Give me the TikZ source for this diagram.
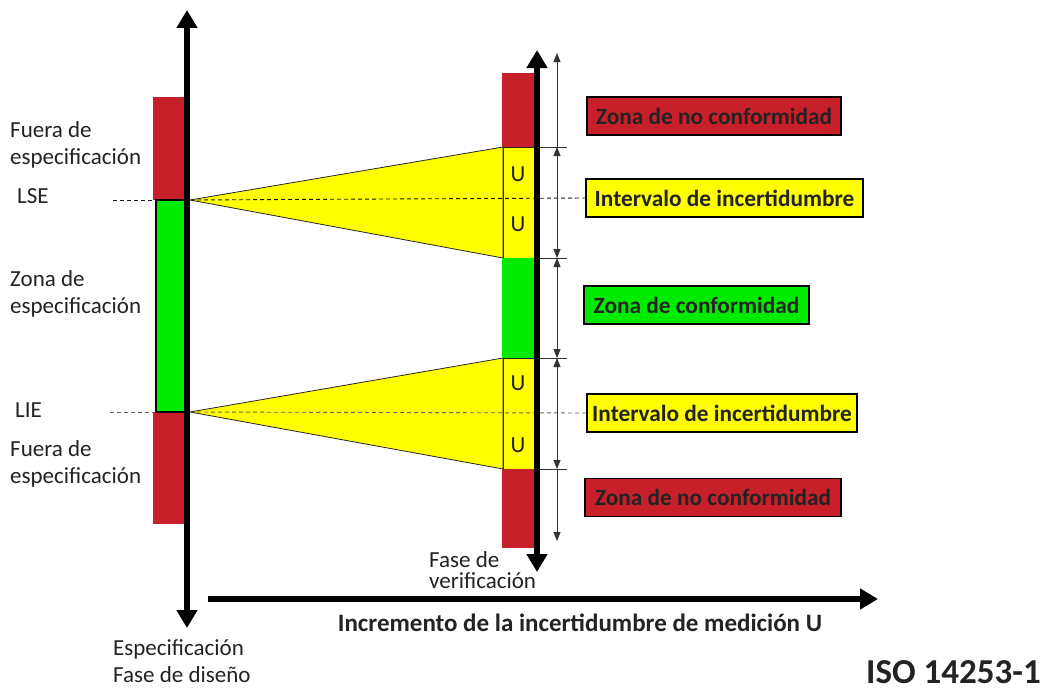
\documentclass[tikz,border=0pt]{standalone}
\usepackage{fontspec}
\setmainfont{Carlito}
\usetikzlibrary{arrows.meta}
\definecolor{myred}{RGB}{200,32,42}
\definecolor{mygreen}{RGB}{0,235,0}
\definecolor{myyellow}{RGB}{255,255,0}
\definecolor{txt}{RGB}{35,35,35}
\tikzset{
  lbl/.style={anchor=base west, inner sep=0pt, font=\fontsize{23}{27}\selectfont, text=txt},
  zonebox/.style={draw=black, line width=1.6pt, inner sep=0pt, minimum height=38pt,
     font=\bfseries\fontsize{23.3}{26}\selectfont, text=txt},
  axis/.style={line width=6pt, -{Triangle[width=20pt,length=18pt]}},
  dim/.style={line width=0.8pt, draw=black!80},
  limline/.style={dashed, line width=0.9pt, dash pattern=on 4pt off 3pt},
  tick/.style={line width=0.8pt, draw=black!80},
  ulbl/.style={inner sep=0pt, font=\fontsize{23}{27}\selectfont, text=txt}
}
\begin{document}
\begin{tikzpicture}[x=1pt,y=-1pt]
\useasboundingbox[fill=white] (0,0) rectangle (1048,693);

% --- key coordinates
\coordinate (lse) at (190,200);
\coordinate (lie) at (190,412);
\coordinate (yt1) at (503,147);
\coordinate (yb1) at (503,258);
\coordinate (yt2) at (503,358);
\coordinate (yb2) at (503,469);

% --- yellow triangles
\filldraw[fill=myyellow, draw=black!85, line width=0.8pt] (lse) -- (yt1) -- (yb1) -- cycle;
\filldraw[fill=myyellow, draw=black!85, line width=0.8pt] (lie) -- (yt2) -- (yb2) -- cycle;

% --- left bar
\fill[myred] (153,97) rectangle (187,200);
\fill[myred] (153,412) rectangle (187,524);
\filldraw[fill=mygreen, draw=black, line width=2.2pt] (156,200) rectangle (186,412);

% --- right bar
\fill[myred] (502,73) rectangle (535,147);
\filldraw[fill=myyellow, draw=black!85, line width=0.8pt] (503,147) rectangle (535,258);
\fill[mygreen] (502,258) rectangle (535,358);
\filldraw[fill=myyellow, draw=black!85, line width=0.8pt] (503,358) rectangle (535,469);
\fill[myred] (502,469) rectangle (535,548);

% --- U labels
\node[ulbl] (u1) at (518,174) {U};
\node[ulbl] (u2) at (518,224) {U};
\node[ulbl] (u3) at (518,383) {U};
\node[ulbl] (u4) at (518,445) {U};

% --- right labels
\node[zonebox, fill=myred, minimum width=254pt] (nc1) at (714,116) {Zona de no conformidad};
\node[zonebox, fill=myyellow, minimum width=277pt] (ii1) at (724.5,198) {Intervalo de incertidumbre};
\node[zonebox, fill=mygreen, minimum width=225pt] (cz) at (696.5,305) {Zona de conformidad};
\node[zonebox, fill=myyellow, minimum width=270pt] (ii2) at (722,413) {Intervalo de incertidumbre};
\node[zonebox, fill=myred, minimum width=256pt] (nc2) at (713,497.5) {Zona de no conformidad};

% --- limit lines
\coordinate (lseL) at (113,200);
\coordinate (lieL) at (110,412);
\draw[limline, draw=black!90] (lseL) -- (153,200);
\draw[limline, draw=black!90] (lse) -- (ii1.west);
\draw[limline, draw=black!60] (lieL) -- (153,412);
\draw[limline, draw=black!60] (lie) -- (ii2.west);

% --- axes
\coordinate (vA1) at (187,628);
\coordinate (vA2) at (187,10);
\draw[axis] (187,330) -- (vA2);
\draw[axis] (187,330) -- (vA1);
\coordinate (vB1) at (537,572);
\coordinate (vB2) at (537,50);
\draw[axis] (537,310) -- (vB2);
\draw[axis] (537,310) -- (vB1);
\coordinate (hA1) at (208,599);
\coordinate (hA2) at (878,599);
\draw[line width=5.5pt, -{Triangle[width=20pt,length=18pt]}] (hA1) -- (hA2);

% --- ticks
\foreach \yy/\nm in {147/ta,258/tb,358/tc,469/td}{
  \coordinate (\nm) at (557,\yy);
  \draw[tick] (538,\yy) -- (567,\yy);
}
\coordinate (dtop) at (557,53);
\coordinate (dbot) at (557,541);
\draw[dim, -{Triangle[width=7pt,length=9pt]}] (ta) -- (dtop);
\draw[dim, {Triangle[width=7pt,length=9pt]}-{Triangle[width=7pt,length=9pt]}] (ta) -- (tb);
\draw[dim, {Triangle[width=7pt,length=9pt]}-{Triangle[width=7pt,length=9pt]}] (tb) -- (tc);
\draw[dim, {Triangle[width=7pt,length=9pt]}-{Triangle[width=7pt,length=9pt]}] (tc) -- (td);
\draw[dim, -{Triangle[width=7pt,length=9pt]}] (td) -- (dbot);

% --- left texts
\node[lbl] (f1a) at (10,137) {Fuera de};
\node[lbl] (f1b) at (10,164.5) {especificación};
\node[lbl] (lsel) at (17,203) {LSE};
\node[lbl] (z1a) at (10,286) {Zona de};
\node[lbl] (z1b) at (10,313) {especificación};
\node[lbl] (liel) at (15,417) {LIE};
\node[lbl] (f2a) at (10,456) {Fuera de};
\node[lbl] (f2b) at (10,483) {especificación};

% --- bottom texts
\node[lbl] (esp) at (113,655) {Especificación};
\node[lbl] (dis) at (113,682) {Fase de diseño};
\node[lbl] (fv1) at (429,567) {Fase de};
\node[lbl] (fv2) at (429,588) {verificación};
\node[anchor=base, inner sep=0pt, font=\bfseries\fontsize{25}{29}\selectfont, text=txt] (inc) at (580,631) {Incremento de la incertidumbre de medición U};
\node[anchor=base east, inner sep=0pt, font=\bfseries\fontsize{35}{40}\selectfont, text=txt] (iso) at (1041,683) {ISO 14253-1};
\end{tikzpicture}
\end{document}
